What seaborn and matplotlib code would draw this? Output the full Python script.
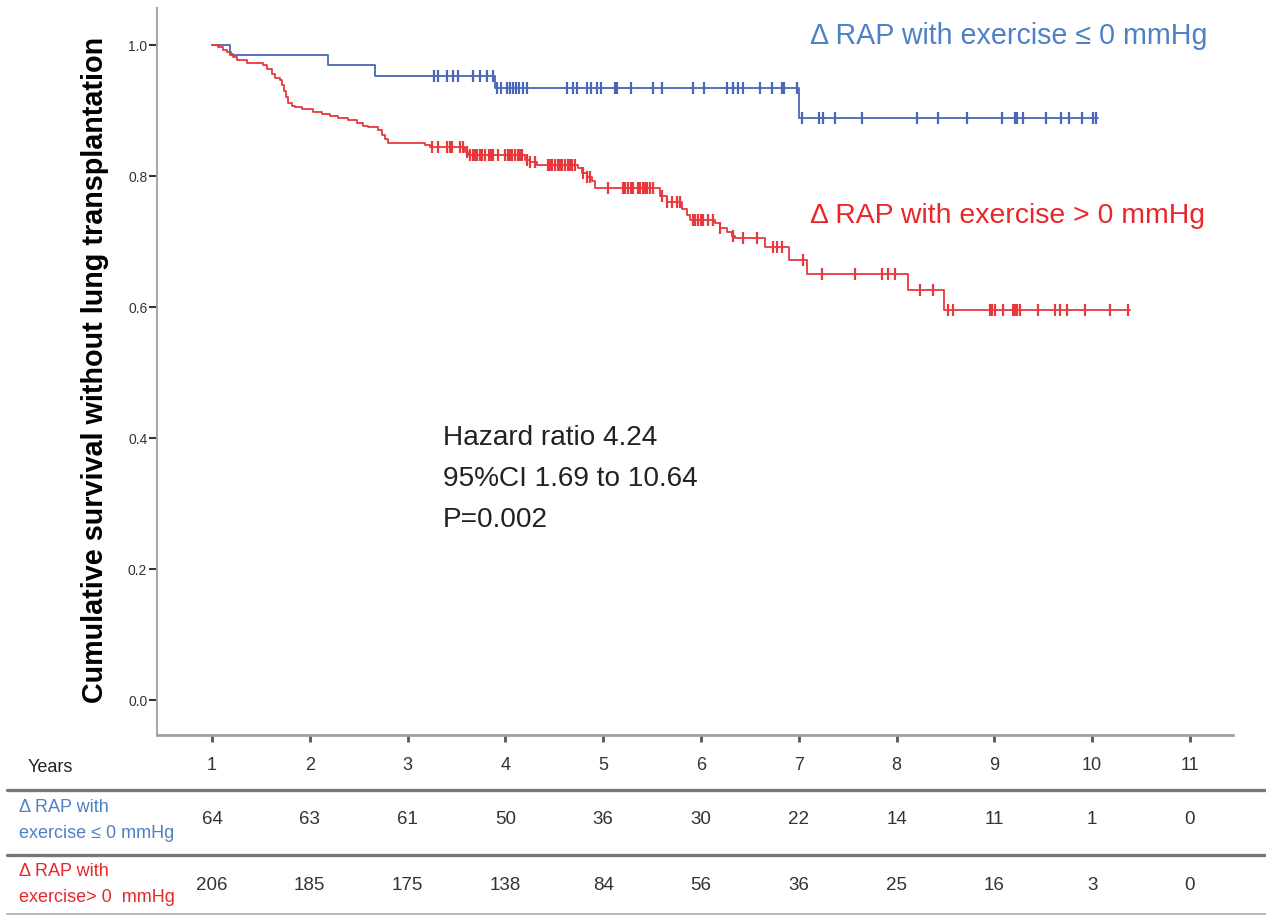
import numpy as np
import pandas as pd
import matplotlib
matplotlib.use("Agg")
import matplotlib.pyplot as plt
from matplotlib.lines import Line2D
from matplotlib.transforms import blended_transform_factory
import seaborn as sns

# ---------------- data ----------------
# Delta RAP with exercise <= 0 mmHg: event times (years) and survival after each event
low_event_times = [1.18, 2.19, 2.67, 3.89, 7.00]
low_event_surv = [0.984, 0.969, 0.953, 0.935, 0.889]
low_censor_times = [3.27, 3.31, 3.40, 3.46, 3.52, 3.67, 3.74, 3.81, 3.87, 3.91, 3.96,
                    4.02, 4.05, 4.08, 4.11, 4.14, 4.18, 4.22, 4.63, 4.69, 4.73, 4.83,
                    4.88, 4.94, 4.98, 5.12, 5.14, 5.28, 5.51, 5.60, 5.92, 6.03, 6.27,
                    6.33, 6.38, 6.43, 6.60, 6.73, 6.83, 6.85, 6.98, 7.03, 7.21, 7.25,
                    7.37, 7.65, 8.21, 8.42, 8.72, 9.08, 9.21, 9.23, 9.29, 9.53, 9.68,
                    9.76, 9.90, 10.01, 10.04]
low_end = 10.06

# Delta RAP with exercise > 0 mmHg
high_event_times = [1.06, 1.11, 1.15, 1.19, 1.21, 1.26, 1.36, 1.52, 1.56, 1.61,
                    1.64, 1.70, 1.72, 1.74, 1.76, 1.78, 1.82, 1.85, 1.92, 2.03,
                    2.12, 2.21, 2.29, 2.39, 2.48, 2.54, 2.60, 2.70, 2.74, 2.77,
                    2.80, 3.18, 3.23, 3.59, 3.62, 4.20, 4.25, 4.32, 4.74, 4.78,
                    4.83, 4.89, 4.92, 5.58, 5.65, 5.81, 5.86, 5.89, 6.14, 6.19,
                    6.27, 6.32, 6.35, 6.65, 6.90, 7.08, 8.12, 8.49]
high_event_surv = [0.997, 0.993, 0.990, 0.986, 0.981, 0.977, 0.973, 0.969, 0.964, 0.956,
                   0.950, 0.947, 0.939, 0.930, 0.921, 0.912, 0.907, 0.905, 0.902, 0.898,
                   0.895, 0.892, 0.888, 0.886, 0.881, 0.877, 0.875, 0.870, 0.863, 0.856,
                   0.850, 0.847, 0.844, 0.837, 0.832, 0.824, 0.821, 0.817, 0.812, 0.805,
                   0.799, 0.792, 0.782, 0.769, 0.761, 0.750, 0.740, 0.733, 0.728, 0.720,
                   0.715, 0.708, 0.705, 0.691, 0.672, 0.651, 0.626, 0.595]
high_censor_times = [3.25, 3.31, 3.40, 3.43, 3.45, 3.54, 3.57, 3.61, 3.64, 3.67, 3.69,
                     3.71, 3.74, 3.76, 3.79, 3.83, 3.85, 3.87, 3.92, 4.00, 4.03, 4.05,
                     4.07, 4.10, 4.13, 4.15, 4.17, 4.22, 4.25, 4.30, 4.44, 4.46, 4.48,
                     4.51, 4.54, 4.56, 4.58, 4.61, 4.64, 4.66, 4.68, 4.71, 4.79, 4.83,
                     4.87, 5.05, 5.20, 5.22, 5.25, 5.28, 5.30, 5.36, 5.38, 5.41, 5.43,
                     5.45, 5.48, 5.51, 5.60, 5.65, 5.70, 5.75, 5.79, 5.92, 5.94, 5.97,
                     6.00, 6.02, 6.07, 6.12, 6.19, 6.33, 6.43, 6.57, 6.74, 6.78, 6.83,
                     7.04, 7.24, 7.57, 7.85, 7.91, 7.98, 8.24, 8.37, 8.53, 8.58, 8.96,
                     8.98, 9.01, 9.09, 9.19, 9.21, 9.23, 9.26, 9.45, 9.62, 9.67, 9.74,
                     9.93, 10.18, 10.37]
high_end = 10.39

years = [1, 2, 3, 4, 5, 6, 7, 8, 9, 10, 11]
at_risk_low = [64, 63, 61, 50, 36, 30, 22, 14, 11, 1, 0]
at_risk_high = [206, 185, 175, 138, 84, 56, 36, 25, 16, 3, 0]

label_low = "\u0394 RAP with exercise \u2264 0 mmHg"
label_high = "\u0394 RAP with exercise > 0 mmHg"
stats_lines = ["Hazard ratio 4.24", "95%CI 1.69 to 10.64", "P=0.002"]

BLUE = "#4a66b8"
BLUE_TXT = "#4d80c4"
RED = "#e8383c"
RED_TXT = "#e8272b"


def km_steps(events, surv, end, group):
    t = [1.0] + list(events) + [end]
    s = [1.0] + list(surv) + [surv[-1]]
    return pd.DataFrame({"time": t, "surv": s, "group": group})


def km_censors(events, surv, censors, group):
    levels = np.array([1.0] + list(surv))
    idx = np.searchsorted(np.array(events), np.array(censors), side="right")
    return pd.DataFrame({"time": censors, "surv": levels[idx], "group": group})


steps = pd.concat([km_steps(low_event_times, low_event_surv, low_end, "low"),
                   km_steps(high_event_times, high_event_surv, high_end, "high")])
cens = pd.concat([km_censors(low_event_times, low_event_surv, low_censor_times, "low"),
                  km_censors(high_event_times, high_event_surv, high_censor_times, "high")])

# ---------------- figure ----------------
sns.set_theme(style="white")
plt.rcParams["font.family"] = ["Liberation Sans", "DejaVu Sans"]

W, H = 1266, 917
fig = plt.figure(figsize=(W / 100, H / 100), dpi=100)
fig.patch.set_facecolor("white")


def fx(px):
    return px / W


def fy(py):
    return 1 - py / H


ax = fig.add_axes([fx(157), fy(735), fx(1233) - fx(157), fy(8) - fy(735)])
ax.set_facecolor("white")

palette = {"low": BLUE, "high": RED}
for g in ["low", "high"]:
    sns.lineplot(data=steps[steps.group == g], x="time", y="surv", color=palette[g],
                 drawstyle="steps-post", estimator=None, sort=False, lw=1.3, ax=ax,
                 legend=False)
    sns.scatterplot(data=cens[cens.group == g], x="time", y="surv", color=palette[g],
                    marker="|", s=85, linewidth=1.6, ax=ax, legend=False, zorder=3)

ax.set_xlim(0.4376, 11.44)
ax.set_ylim(-0.0534, 1.0565)
ax.set_xticks(years)
ax.set_xticklabels([str(y) for y in years])
ax.set_yticks([0.0, 0.2, 0.4, 0.6, 0.8, 1.0])
ax.set_yticklabels(["0.0", "0.2", "0.4", "0.6", "0.8", "1.0"])
ax.set_xlabel("")
ax.set_ylabel("")

for side in ["top", "right"]:
    ax.spines[side].set_visible(False)
ax.spines["left"].set_color("#a8a8a8")
ax.spines["left"].set_linewidth(1.5)
ax.spines["bottom"].set_color("#a0a0a0")
ax.spines["bottom"].set_linewidth(2.0)

ax.tick_params(axis="y", direction="out", length=6, width=1.5, color="#333333",
               labelsize=10, labelcolor="#333333", pad=1, left=True)
ax.tick_params(axis="x", direction="out", length=5, width=2, color="#555555",
               labelsize=13, labelcolor="#333333", pad=11, bottom=True)

# axis title
fig.text(fx(95), fy(370), "Cumulative survival without lung transplantation",
         rotation=90, ha="center", va="center", fontsize=20.7, fontweight="bold",
         color="black")

# group labels
fig.text(fx(810), fy(36), label_low, ha="left", va="center", fontsize=20.6,
         color=BLUE_TXT)
fig.text(fx(810), fy(216), label_high, ha="left", va="center", fontsize=20.4,
         color=RED_TXT)

# model statistics
for text, py in zip(stats_lines, [438, 479, 520]):
    fig.text(fx(443), fy(py), text, ha="left", va="center", fontsize=20.2,
             color="#222222")

# ---------------- number-at-risk table ----------------
fig.text(fx(28), fy(767), "Years", ha="left", va="center", fontsize=13,
         color="#222222")

for py, c, lw in [(790, "#777777", 2.4), (855, "#777777", 2.4), (914, "#b0b0b0", 1.3)]:
    fig.add_artist(Line2D([fx(7), 1.0], [fy(py), fy(py)], color=c, lw=lw,
                          transform=fig.transFigure))

fig.text(fx(19), fy(808), "\u0394 RAP with", ha="left", va="center", fontsize=13,
         color=BLUE_TXT)
fig.text(fx(19), fy(833), "exercise \u2264 0 mmHg", ha="left", va="center",
         fontsize=13, color=BLUE_TXT)
fig.text(fx(19), fy(872), "\u0394 RAP with", ha="left", va="center", fontsize=13,
         color=RED_TXT)
fig.text(fx(19), fy(897), "exercise> 0  mmHg", ha="left", va="center",
         fontsize=13, color=RED_TXT)

trans = blended_transform_factory(ax.transData, fig.transFigure)
for yr, n_low, n_high in zip(years, at_risk_low, at_risk_high):
    fig.text(yr, fy(820), str(n_low), transform=trans, ha="center", va="center",
             fontsize=13.5, color="#333333")
    fig.text(yr, fy(885), str(n_high), transform=trans, ha="center", va="center",
             fontsize=13.5, color="#333333")

fig.savefig("out.png", dpi=100, facecolor="white")
